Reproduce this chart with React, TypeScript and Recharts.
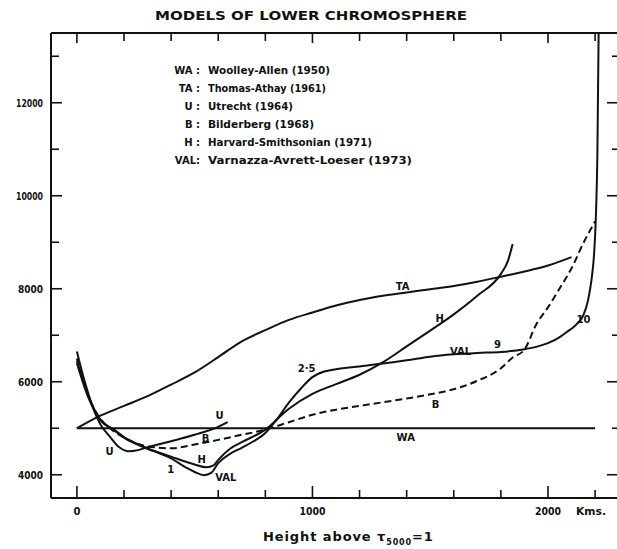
import { LineChart, Line, XAxis, YAxis, ReferenceDot } from 'recharts';

// height above tau5000=1 (km) vs temperature (K)
const xTicks = [0, 200, 400, 600, 800, 1000, 1200, 1400, 1600, 1800, 2000, 2200];
const xLabels = [0, 1000, 2000];
const yTicks = [4000, 5000, 6000, 7000, 8000, 9000, 10000, 11000, 12000, 13000];
const yLabels = [4000, 6000, 8000, 10000, 12000];

const WA = [[0, 5000], [2200, 5000]];
const TA = [
  [0, 5000], [100, 5270], [200, 5480], [300, 5690], [400, 5940], [500, 6200], [600, 6530],
  [700, 6870], [800, 7110], [900, 7330], [1000, 7490], [1100, 7640], [1200, 7760], [1300, 7850],
  [1400, 7920], [1500, 7990], [1600, 8060], [1700, 8150], [1800, 8260], [1900, 8370],
  [2000, 8500], [2100, 8680],
];
const U = [
  [0, 6650], [25, 6150], [50, 5720], [75, 5350], [100, 5080], [140, 4820], [180, 4590],
  [220, 4505], [260, 4530], [300, 4590], [400, 4720], [500, 4860], [600, 5030], [640, 5130],
];
const B = [
  [0, 6500], [50, 5680], [100, 5200], [140, 5000], [200, 4800], [300, 4610], [400, 4570],
  [500, 4650], [600, 4750], [700, 4860], [800, 4970], [900, 5130], [1000, 5290], [1100, 5400],
  [1200, 5480], [1300, 5560], [1400, 5640], [1500, 5730], [1600, 5840], [1700, 6020],
  [1800, 6290], [1850, 6520], [1900, 6690], [1950, 7230], [2000, 7600], [2050, 8010],
  [2100, 8440], [2150, 8980], [2200, 9450],
];
const H = [
  [0, 6450], [50, 5680], [100, 5180], [160, 4960], [200, 4810], [280, 4610], [400, 4390],
  [500, 4220], [550, 4160], [580, 4200], [600, 4320], [650, 4560], [700, 4700], [800, 4970],
  [900, 5420], [1000, 5740], [1100, 5950], [1200, 6150], [1300, 6420], [1400, 6760],
  [1500, 7100], [1600, 7450], [1700, 7850], [1800, 8320], [1830, 8600], [1850, 8960],
];
const VAL = [
  [0, 6400], [50, 5640], [100, 5180], [160, 4950], [200, 4800], [280, 4600], [400, 4350],
  [465, 4150], [500, 4060], [540, 3990], [570, 4040], [600, 4250], [650, 4450], [700, 4580],
  [750, 4720], [800, 4900], [850, 5200], [900, 5550], [950, 5850], [1000, 6100], [1050, 6220],
  [1100, 6270], [1200, 6330], [1300, 6390], [1400, 6460], [1500, 6540], [1600, 6590],
  [1700, 6620], [1800, 6640], [1900, 6700], [1950, 6750], [2000, 6830], [2050, 6960],
  [2080, 7070], [2120, 7230], [2150, 7430], [2170, 7750], [2185, 8200], [2195, 8700],
  [2203, 9500], [2210, 11000], [2215, 13500],
];

const legendKeys = ['WA :', 'TA :', 'U :', 'B :', 'H :', 'VAL:'];
const legendNames = [
  'Woolley-Allen (1950)',
  'Thomas-Athay (1961)',
  'Utrecht (1964)',
  'Bilderberg (1968)',
  'Harvard-Smithsonian (1971)',
  'Varnazza-Avrett-Loeser (1973)',
];
const legendWidths = [122, 118, 85, 106, 164, 204];

const curveLabels = [
  { text: 'TA', h: 1383, t: 8048 },
  { text: 'H', h: 1540, t: 7355 },
  { text: 'VAL', h: 1629, t: 6662 },
  { text: '9', h: 1786, t: 6792 },
  { text: '10', h: 2151, t: 7333 },
  { text: '2·5', h: 975, t: 6294 },
  { text: 'B', h: 1523, t: 5515 },
  { text: 'WA', h: 1396, t: 4801 },
  { text: 'U', h: 606, t: 5277 },
  { text: 'U', h: 139, t: 4498 },
  { text: 'B', h: 546, t: 4779 },
  { text: '1', h: 398, t: 4108 },
  { text: 'H', h: 530, t: 4325 },
  { text: 'VAL', h: 632, t: 3935 },
];

const FONT = '"DejaVu Sans", sans-serif';
const INK = '#111';

const rows = (pts: number[][]) => pts.map(([h, t]) => ({ h, t }));

const BottomTick = (props: any) => {
  const { x, y, payload } = props;
  const v = payload.value;
  const big = xLabels.includes(v);
  return (
    <g>
      <line x1={x} x2={x} y1={y} y2={y - (big ? 12 : 8)} stroke={INK} strokeWidth={1.6} />
      {big && (
        <text x={x} y={y + 17} textAnchor="middle" fontSize={11} fontWeight="bold" fontFamily={FONT} fill={INK}
          textLength={v === 0 ? 7 : 26} lengthAdjust="spacingAndGlyphs">{v}</text>
      )}
      {v === 2000 && (
        <text x={x + 28} y={y + 17} fontSize={11} fontWeight="bold" fontFamily={FONT} fill={INK}
          textLength={30} lengthAdjust="spacingAndGlyphs">Kms.</text>
      )}
    </g>
  );
};

const TopTick = (props: any) => {
  const { x, y, payload } = props;
  const big = xLabels.includes(payload.value);
  return <line x1={x} x2={x} y1={y} y2={y + (big ? 10 : 8)} stroke={INK} strokeWidth={1.6} />;
};

const LeftTick = (props: any) => {
  const { x, y, payload } = props;
  const v = payload.value;
  const big = yLabels.includes(v);
  return (
    <g>
      <line x1={x} x2={x + (big ? 11 : 8)} y1={y} y2={y} stroke={INK} strokeWidth={1.6} />
      {big && (
        <text x={x - 8} y={y + 4} textAnchor="end" fontSize={11} fontWeight="bold" fontFamily={FONT} fill={INK}
          textLength={v >= 10000 ? 27 : 25} lengthAdjust="spacingAndGlyphs">{v}</text>
      )}
    </g>
  );
};

const RightTick = (props: any) => {
  const { x, y, payload } = props;
  const big = yLabels.includes(payload.value);
  return <line x1={x} x2={x - (big ? 14 : 9)} y1={y} y2={y} stroke={INK} strokeWidth={1.6} />;
};

export default function App() {
  return (
    <div style={{ position: 'fixed', left: 0, top: 0, width: 617, height: 549, overflow: 'hidden', background: '#fff' }}>
      <LineChart width={700} height={549} margin={{ top: 30, right: 59, bottom: 21, left: 0 }}>
        <XAxis xAxisId="b" dataKey="h" type="number" domain={[-110, 2310]} ticks={xTicks} allowDataOverflow
          height={30} tickSize={0} tickMargin={0} tickLine={false} tick={<BottomTick />}
          axisLine={{ stroke: INK, strokeWidth: 2 }} interval={0} />
        <XAxis xAxisId="t" orientation="top" dataKey="h" type="number" domain={[-110, 2310]} ticks={xTicks}
          allowDataOverflow height={3} tickSize={0} tickMargin={0} tickLine={false} tick={<TopTick />}
          axisLine={{ stroke: INK, strokeWidth: 2 }} interval={0} />
        <YAxis yAxisId="l" type="number" domain={[3500, 13500]} ticks={yTicks} allowDataOverflow width={51}
          tickSize={0} tickMargin={0} tickLine={false} tick={<LeftTick />}
          axisLine={{ stroke: INK, strokeWidth: 2 }} interval={0} />
        <YAxis yAxisId="r" orientation="right" type="number" domain={[3500, 13500]} ticks={yTicks}
          allowDataOverflow width={20} tickSize={0} tickMargin={0} tickLine={false} tick={<RightTick />}
          axisLine={false} interval={0} />

        <Line xAxisId="t" yAxisId="r" data={rows(WA)} dataKey="t" stroke="none" dot={false} isAnimationActive={false} />
        <Line xAxisId="b" yAxisId="l" data={rows(WA)} dataKey="t" type="linear" stroke={INK} strokeWidth={2} dot={false} isAnimationActive={false} />
        <Line xAxisId="b" yAxisId="l" data={rows(TA)} dataKey="t" type="monotone" stroke={INK} strokeWidth={2} dot={false} isAnimationActive={false} />
        <Line xAxisId="b" yAxisId="l" data={rows(U)} dataKey="t" type="monotone" stroke={INK} strokeWidth={2} dot={false} isAnimationActive={false} />
        <Line xAxisId="b" yAxisId="l" data={rows(B)} dataKey="t" type="monotone" stroke={INK} strokeWidth={2} strokeDasharray="7 4" dot={false} isAnimationActive={false} />
        <Line xAxisId="b" yAxisId="l" data={rows(H)} dataKey="t" type="monotone" stroke={INK} strokeWidth={2} dot={false} isAnimationActive={false} />
        <Line xAxisId="b" yAxisId="l" data={rows(VAL)} dataKey="t" type="monotone" stroke={INK} strokeWidth={2} dot={false} isAnimationActive={false} />

        {curveLabels.map((c, i) => (
          <ReferenceDot key={i} xAxisId="b" yAxisId="l" x={c.h} y={c.t} r={0} stroke="none" fill="none"
            label={{ value: c.text, position: 'center', fill: INK, fontSize: 10, fontWeight: 'bold', fontFamily: FONT }} />
        ))}
      </LineChart>

      <svg width={617} height={549} style={{ position: 'absolute', left: 0, top: 0, pointerEvents: 'none' }}>
        <text x={155} y={20} fontSize={12} fontWeight="bold" fontFamily={FONT} fill={INK}
          textLength={312} lengthAdjust="spacingAndGlyphs">MODELS OF LOWER CHROMOSPHERE</text>
        {legendKeys.map((k, i) => (
          <text key={'k' + i} x={200} y={74 + i * 18} textAnchor="end" fontSize={10} fontWeight="bold" fontFamily={FONT} fill={INK}>{k}</text>
        ))}
        {legendNames.map((n, i) => (
          <text key={'n' + i} x={208} y={74 + i * 18} fontSize={10} fontWeight="bold" fontFamily={FONT} fill={INK}
            textLength={legendWidths[i]} lengthAdjust="spacingAndGlyphs">{n}</text>
        ))}
        <text x={263} y={541} fontSize={13} fontWeight="bold" fontFamily={FONT} fill={INK} letterSpacing={0.9}>
          Height above τ<tspan fontSize={8} dy={4}>5000</tspan><tspan dy={-4}>=1</tspan>
        </text>
      </svg>
    </div>
  );
}
